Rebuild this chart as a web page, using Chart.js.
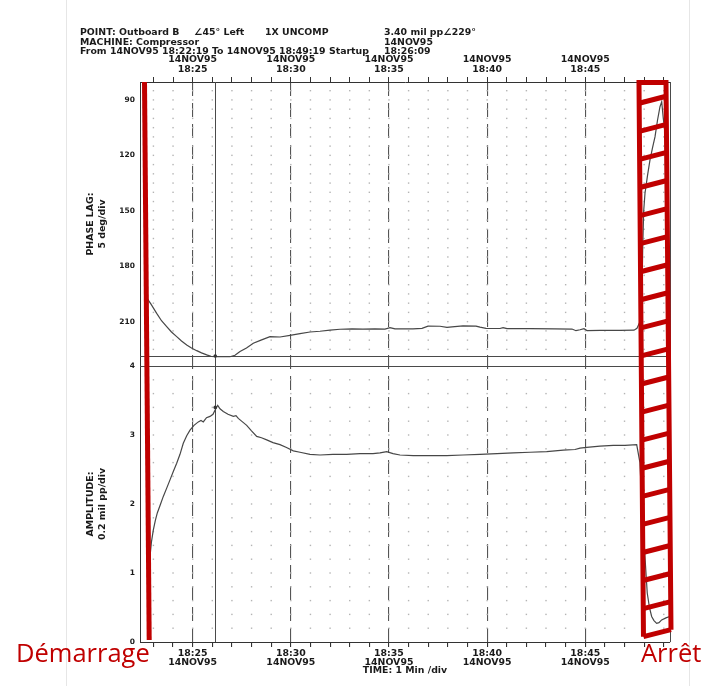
<!DOCTYPE html>
<html>
<head>
<meta charset="utf-8">
<script src="https://cdn.jsdelivr.net/npm/chart.js@4.4.1/dist/chart.umd.min.js"></script>
<style>
html,body{margin:0;padding:0;background:#fff;}
#wrap{position:relative;width:704px;height:686px;overflow:hidden;background:#fff;}
#c{position:absolute;left:0;top:0;}
.edge{position:absolute;top:0;width:1px;height:686px;background:#e6e6e6;}
.h{position:absolute;font-family:'DejaVu Sans';font-weight:bold;font-size:9.4px;line-height:10px;color:#1a1a1a;white-space:nowrap;}
.red{position:absolute;font-family:'Open Sans';font-size:25.5px;line-height:25.5px;color:#C00000;white-space:nowrap;}
</style>
</head>
<body>
<div id="wrap">
  <div class="edge" style="left:66px"></div>
  <div class="edge" style="left:689px"></div>
  <canvas id="c" width="704" height="686"></canvas>
  <div class="h" style="left:80px;top:27px">POINT: Outboard B</div>
  <div class="h" style="left:194px;top:27px">∠45° Left</div>
  <div class="h" style="left:265px;top:27px">1X UNCOMP</div>
  <div class="h" style="left:384px;top:27px">3.40 mil pp∠229°</div>
  <div class="h" style="left:80px;top:36.5px">MACHINE: Compressor</div>
  <div class="h" style="left:384px;top:36.5px">14NOV95</div>
  <div class="h" style="left:80px;top:46px">From 14NOV95 18:22:19 To 14NOV95 18:49:19 Startup</div>
  <div class="h" style="left:384px;top:46px">18:26:09</div>
  <div class="red" style="left:16px;top:640px">Démarrage</div>
  <div class="red" style="left:641px;top:640px">Arrêt</div>
</div>
<script>
// ---- data (time in minutes after 18:00) ----
const tStart = 22 + 19/60;          // 18:22:19
const tEnd = 49 + 19/60;            // 18:49:19
const cursorT = 26 + 9/60;          // 18:26:09
const cursorAmp = 3.40;
const cursorPhase = 229;

const majorTimes = [25, 30, 35, 40, 45];
const timeLabels = ['18:25', '18:30', '18:35', '18:40', '18:45'];
const dateLabel = '14NOV95';
const phaseTicks = [90, 120, 150, 180, 210];
const ampTicks = [0, 1, 2, 3, 4];

const phaseTime = [22.62,22.877,23.167,23.412,23.677,23.921,24.186,24.431,24.696,24.94,25.205,25.45,25.715,25.934,26.224,26.545,26.9,27.156,27.411,27.742,28.088,28.48,28.939,29.449,29.96,30.468,30.977,31.486,31.996,32.505,33.116,33.677,34.288,34.797,35.052,35.307,36.224,36.683,36.988,37.6,37.956,38.211,38.771,39.433,39.637,39.943,40.656,40.81,41.013,42.185,43.458,44.324,44.528,44.731,44.935,45.088,45.75,46.769,47.482,47.635,47.875,47.926,47.977,48.043,48.17,48.298,48.425,48.552,48.68,48.807,48.894,48.975,49.113];
const phaseDeg = [196.5,200.5,205.5,209.5,212.7,215.6,218.1,220.5,222.6,224.3,225.7,226.9,228.0,228.8,229,229,229,228.2,226.2,224.3,221.7,220.0,218.1,218.3,217.4,216.5,215.6,215.2,214.6,214.1,213.9,214.0,213.9,214.0,213.2,213.9,213.9,213.6,212.4,212.5,213.1,212.8,212.3,212.4,213.0,213.6,213.7,213.2,213.8,213.8,213.9,214.0,214.9,214.4,213.8,214.8,214.7,214.7,214.6,213.6,208,170,150,140.5,131,122.5,116,110,101,93.7,91.0,100,112];

const ampTime = [22.775,22.826,22.9,22.994,23.096,23.198,23.351,23.504,23.677,23.845,24.013,24.186,24.354,24.522,24.696,24.864,25.067,25.286,25.424,25.541,25.704,25.883,26.035,26.137,26.275,26.392,26.56,26.8,27.07,27.207,27.324,27.538,27.752,27.997,28.262,28.506,28.771,29.092,29.449,29.78,30.126,30.468,30.977,31.486,32.148,32.846,33.524,34.186,34.543,34.884,35.205,35.56,36.239,37.09,37.941,38.771,39.637,40.503,41.334,42.185,43.035,43.881,44.477,44.731,45.072,45.75,46.428,47.024,47.62,47.785,47.887,48.04,48.157,48.27,48.382,48.5,48.637,48.754,48.892,49.11,49.3];
const ampMil = [1.0,1.24,1.45,1.62,1.76,1.87,1.99,2.11,2.23,2.35,2.47,2.59,2.72,2.88,2.99,3.07,3.14,3.19,3.21,3.19,3.25,3.27,3.30,3.36,3.43,3.38,3.34,3.30,3.27,3.28,3.24,3.19,3.14,3.06,2.98,2.96,2.93,2.89,2.86,2.82,2.77,2.75,2.72,2.71,2.72,2.72,2.73,2.73,2.74,2.76,2.73,2.71,2.70,2.70,2.70,2.71,2.72,2.73,2.74,2.75,2.76,2.78,2.79,2.81,2.82,2.84,2.85,2.85,2.86,2.6,2.0,1.24,0.71,0.5,0.37,0.31,0.27,0.28,0.32,0.35,0.37];

// annotation anchors (time units)
const startupMark = [22.546, 22.785];               // top, bottom of the red startup stroke
const stopBox = [47.737, 49.113, 47.966, 49.368];    // TL, TR, BL, BR of the hatched stop box

// ---- styling constants ----
const RED = '#C00000';
const INK = '#1a1a1a';
const phaseMin = 80.3, phasePanelBottom = 228.6, phaseMax = 234.0;
const FONT = {family: 'DejaVu Sans', weight: 'bold'};

const minuteTicks = [];
for (let m = Math.ceil(tStart); m <= Math.floor(tEnd); m++) minuteTicks.push(m);

function seg(ctx, x1, y1, x2, y2) { ctx.beginPath(); ctx.moveTo(x1, y1); ctx.lineTo(x2, y2); ctx.stroke(); }

const decor = {
  id: 'decor',
  beforeDatasetsDraw(chart) {
    const {ctx, chartArea: ca, scales} = chart;
    const xs = scales.x, ph = scales.phase, am = scales.amp;
    ctx.save();
    ctx.fillStyle = '#b4b4b4';
    for (const m of minuteTicks) {
      const px = xs.getPixelForValue(m);
      for (let d = 85; d < phasePanelBottom; d += 5) {
        const py = ph.getPixelForValue(d);
        ctx.fillRect(px - 0.7, py - 0.7, 1.4, 1.4);
      }
      for (let k = 1; k < 20; k++) {
        const py = am.getPixelForValue(k * 0.2);
        ctx.fillRect(px - 0.7, py - 0.7, 1.4, 1.4);
      }
    }
    ctx.strokeStyle = '#4a4a4a';
    ctx.lineWidth = 1;
    const yPB = Math.round(ph.getPixelForValue(phasePanelBottom)) + 0.5;
    const yAT = Math.round(am.top) + 0.5;
    seg(ctx, ca.left, yPB, ca.right, yPB);
    seg(ctx, ca.left, yAT, ca.right, yAT);
    seg(ctx, Math.round(ca.right) + 0.5, ca.top, Math.round(ca.right) + 0.5, ca.bottom);
    const cx = Math.round(xs.getPixelForValue(cursorT)) + 0.5;
    seg(ctx, cx, ca.top, cx, ca.bottom);
    ctx.restore();
  },
  afterDatasetsDraw(chart) {
    const {ctx, scales} = chart;
    const cx = scales.x.getPixelForValue(cursorT);
    ctx.save();
    ctx.fillStyle = '#333';
    ctx.beginPath(); ctx.arc(cx, scales.phase.getPixelForValue(Math.min(cursorPhase, phasePanelBottom)), 1.8, 0, Math.PI * 2); ctx.fill();
    ctx.beginPath(); ctx.arc(cx, scales.amp.getPixelForValue(cursorAmp), 1.8, 0, Math.PI * 2); ctx.fill();
    ctx.restore();
  },
  afterDraw(chart) {
    const {ctx, chartArea: ca, scales} = chart;
    const xs = scales.x;
    const H = ca.bottom - ca.top;
    ctx.save();
    ctx.strokeStyle = RED;
    ctx.lineWidth = 5;
    ctx.lineJoin = 'miter';
    // startup stroke
    seg(ctx, xs.getPixelForValue(startupMark[0]), ca.top, xs.getPixelForValue(startupMark[1]), ca.bottom - 2);
    // stop box
    const yTop = ca.top + 0.5;
    const yBot = ca.top + 0.9905 * H;
    const rise = 7;
    const TL = [xs.getPixelForValue(stopBox[0]), yTop];
    const TR = [xs.getPixelForValue(stopBox[1]), yTop];
    const BL = [xs.getPixelForValue(stopBox[2]), yBot];
    const BR = [xs.getPixelForValue(stopBox[3]), yBot - rise];
    const lx = y => TL[0] + (BL[0] - TL[0]) * (y - TL[1]) / (BL[1] - TL[1]);
    const rx = y => TR[0] + (BR[0] - TR[0]) * (y - TR[1]) / (BR[1] - TR[1]);
    ctx.beginPath();
    ctx.moveTo(BL[0], BL[1]); ctx.lineTo(TL[0], TL[1]); ctx.lineTo(TR[0], TR[1]); ctx.lineTo(BR[0], BR[1]);
    ctx.stroke();
    const first = ca.top + 0.038 * H;
    const n = 19;
    const step = (yBot - first) / n;
    for (let k = 0; k <= n; k++) {
      const yl = first + k * step;
      const yr = yl - rise;
      seg(ctx, lx(yl), yl, rx(yr), yr);
    }
    ctx.restore();
  }
};

const xTickCb = (top) => (v) => {
  const i = majorTimes.indexOf(v);
  if (i < 0) return '';
  return top ? [dateLabel, timeLabels[i]] : [timeLabels[i], dateLabel];
};

new Chart(document.getElementById('c'), {
  type: 'line',
  data: {
    datasets: [
      {
        label: 'Phase lag',
        data: phaseTime.map((t, i) => ({x: t, y: phaseDeg[i]})),
        xAxisID: 'xt', yAxisID: 'phase',
        borderColor: '#474747', borderWidth: 1.2, pointRadius: 0, tension: 0, fill: false
      },
      {
        label: 'Amplitude',
        data: ampTime.map((t, i) => ({x: t, y: ampMil[i]})),
        xAxisID: 'x', yAxisID: 'amp',
        borderColor: '#474747', borderWidth: 1.2, pointRadius: 0, tension: 0, fill: false
      }
    ]
  },
  options: {
    responsive: false,
    animation: false,
    devicePixelRatio: 1,
    layout: {padding: {left: 0, right: 34, top: 0, bottom: 0}},
    plugins: {legend: {display: false}, tooltip: {enabled: false}, title: {display: false}},
    scales: {
      x: {
        type: 'linear', position: 'bottom', min: tStart, max: tEnd,
        afterBuildTicks: s => { s.ticks = minuteTicks.map(v => ({value: v})); },
        afterFit: s => { s.height = 44; },
        ticks: {autoSkip: false, maxRotation: 0, padding: 2.7, color: INK,
                font: {...FONT, size: 9.4, lineHeight: 0.92}, callback: xTickCb(false)},
        grid: {color: c => (c.tick && majorTimes.includes(c.tick.value)) ? '#555' : 'rgba(0,0,0,0)',
               tickColor: '#333', tickLength: 5, lineWidth: 1.1, drawOnChartArea: true, drawTicks: true},
        border: {display: true, color: '#333', width: 1, dash: [14, 7]},
        title: {display: true, text: 'TIME: 1 Min /div', color: INK, padding: {top: 0, bottom: 10.3},
                font: {...FONT, size: 9.4, lineHeight: 1}}
      },
      xt: {
        type: 'linear', position: 'top', min: tStart, max: tEnd,
        afterBuildTicks: s => { s.ticks = minuteTicks.map(v => ({value: v})); },
        afterFit: s => { s.height = 82; },
        ticks: {autoSkip: false, maxRotation: 0, padding: 3, color: INK,
                font: {...FONT, size: 9.4, lineHeight: 1}, callback: xTickCb(true)},
        grid: {drawOnChartArea: false, color: '#333', tickLength: 5, drawTicks: true},
        border: {display: true, color: '#333', width: 1}
      },
      phase: {
        type: 'linear', position: 'left', stack: 'panels', stackWeight: 284, weight: 2,
        reverse: true, min: phaseMin, max: phaseMax,
        afterBuildTicks: s => { s.ticks = phaseTicks.map(v => ({value: v})); },
        afterFit: s => { s.width = 140; },
        ticks: {padding: 5, color: INK, font: {...FONT, size: 7.5}},
        grid: {display: false, drawTicks: false},
        border: {display: true, color: '#333', width: 1},
        title: {display: true, text: ['PHASE LAG:', '5 deg/div'], color: INK, padding: {top: 84, bottom: 0},
                font: {...FONT, size: 9.4, lineHeight: 1.33}}
      },
      amp: {
        type: 'linear', position: 'left', stack: 'panels', stackWeight: 276, weight: 1,
        min: 0, max: 4,
        afterBuildTicks: s => { s.ticks = ampTicks.map(v => ({value: v})); },
        afterFit: s => { s.width = 140; },
        ticks: {padding: 5, color: INK, font: {...FONT, size: 7.5}},
        grid: {display: false, drawTicks: false},
        border: {display: true, color: '#333', width: 1},
        title: {display: true, text: ['AMPLITUDE:', '0.2 mil pp/div'], color: INK, padding: {top: 84, bottom: 0},
                font: {...FONT, size: 9.4, lineHeight: 1.33}}
      }
    }
  },
  plugins: [decor]
});
</script>
</body>
</html>
